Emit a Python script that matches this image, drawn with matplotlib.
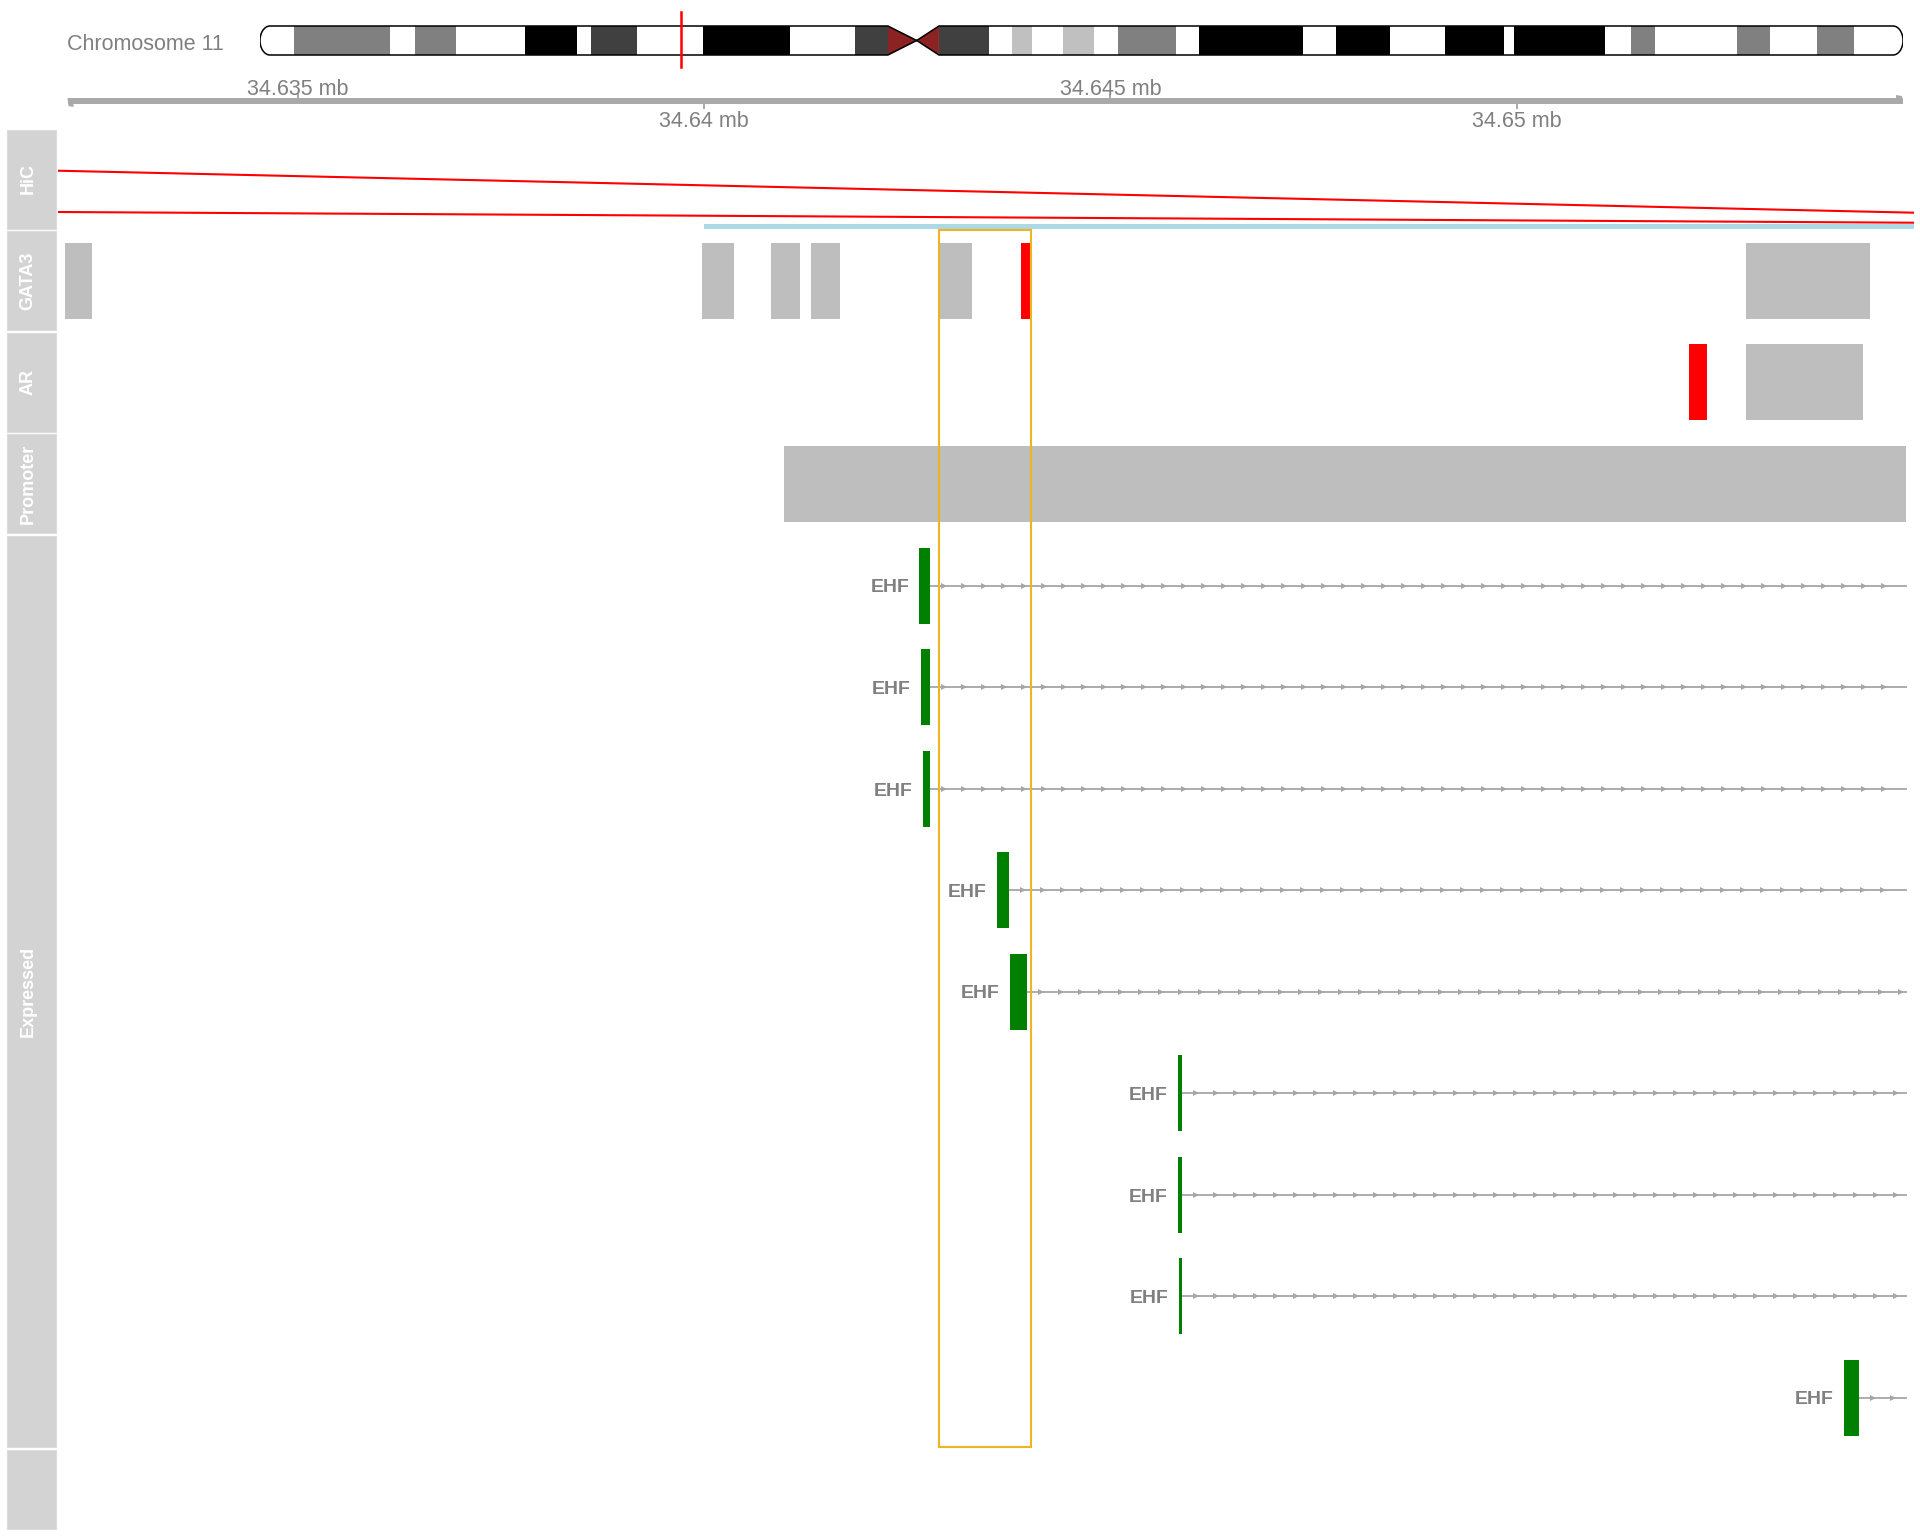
import matplotlib
matplotlib.use('Agg')
import matplotlib.pyplot as plt
from matplotlib.patches import Rectangle, Polygon
import numpy as np

plt.rcParams['font.family'] = ['Liberation Sans', 'DejaVu Sans']

# ---------------- data ----------------
chrom_label = 'Chromosome 11'
chrom_length_mb = 135.0065
band_start_mb = [0, 2.83, 10.68, 12.70, 16.10, 21.78, 26.05, 27.20, 30.98, 36.40,
                 43.55, 48.93, 51.60, 53.96, 55.79, 59.90, 61.79, 63.44, 65.98, 68.49,
                 70.50, 75.27, 77.16, 85.70, 88.42, 92.89, 97.37, 102.22, 103.04, 110.52,
                 112.66, 114.63, 121.33, 124.04, 127.94, 130.98]
band_stain = ['gneg', 'gpos50', 'gneg', 'gpos50', 'gneg', 'gpos100', 'gneg', 'gpos75', 'gneg', 'gpos100',
              'gneg', 'gpos75', 'acen', 'acen', 'gpos75', 'gneg', 'gpos25', 'gneg', 'gpos25', 'gneg',
              'gpos50', 'gneg', 'gpos100', 'gneg', 'gpos100', 'gneg', 'gpos100', 'gneg', 'gpos100', 'gneg',
              'gpos50', 'gneg', 'gpos50', 'gneg', 'gpos50', 'gneg']
stain_color = {'gneg': '#FFFFFF', 'gpos25': '#C0C0C0', 'gpos50': '#808080',
               'gpos75': '#404040', 'gpos100': '#000000', 'acen': '#8B2323'}

region_start = 34632046
region_end = 34654887

axis_ticks_bp = [34635000, 34640000, 34645000, 34650000]
axis_tick_labels = ['34.635 mb', '34.64 mb', '34.645 mb', '34.65 mb']

track_titles = ['HiC', 'GATA3', 'AR', 'Promoter', 'Expressed', '']

hic_anchor_start = 34640000
hic_anchor_end = 34656500
hic_left_height = [59.3, 18.0]
hic_right_height = [17.3, 7.3]

gata3_start = [34632138, 34639975, 34640824, 34641316, 34642891, 34643900, 34652814]
gata3_end = [34632470, 34640369, 34641181, 34641673, 34643297, 34644035, 34654351]
gata3_hit = [False, False, False, False, False, True, False]

ar_start = [34652124, 34652814]
ar_end = [34652346, 34654265]
ar_hit = [True, False]

promoter_start = [34640981]
promoter_end = [34654788]

highlight_start = 34642891
highlight_end = 34644023

gene_name = 'EHF'
tx_exon_start = [34642651, 34642670, 34642694, 34643605, 34643765, 34645826, 34645826, 34645838, 34654026]
tx_exon_end = [34642781, 34642781, 34642781, 34643752, 34643974, 34645876, 34645876, 34645876, 34654210]
tx_end = [34654788] * 9

# ---------------- layout (pixels) ----------------
W, H = 1920, 1536
DATA_X0, DATA_X1 = 57.5, 1914
IDEO_X0, IDEO_X1 = 260, 1903
IDEO_TOP, IDEO_BOT = 26, 55
GREY_TXT = '#808080'
BOX_GREY = '#BEBEBE'

fig = plt.figure(figsize=(19.2, 15.36), dpi=100)

bg = fig.add_axes([0, 0, 1, 1])
bg.set_xlim(0, W)
bg.set_ylim(H, 0)
bg.axis('off')

# title panels
title_rows = [(129.5, 228.5), (231, 330), (332.5, 431.5), (434, 533), (536, 1447), (1450, 1529)]
for (y0, y1), title in zip(title_rows, track_titles):
    bg.add_patch(Rectangle((7, y0), 49, y1 - y0, facecolor='#D3D3D3', edgecolor='#DCDCDC', lw=0.8))
    if title:
        bg.text(28, (y0 + y1) / 2, title, rotation=90, color='white', fontweight='bold',
                fontsize=13, ha='center', va='center')

bg.text(224, 44, chrom_label, ha='right', va='center', fontsize=15.5, color=GREY_TXT)

# ---------------- ideogram ----------------
ia = fig.add_axes([IDEO_X0 / W, 0, (IDEO_X1 - IDEO_X0) / W, 1])
ia.set_xlim(0, chrom_length_mb)
ia.set_ylim(H, 0)
ia.axis('off')
ia.patch.set_alpha(0)

mb_per_px = chrom_length_mb / (IDEO_X1 - IDEO_X0)
ymid = (IDEO_TOP + IDEO_BOT) / 2
ry = (IDEO_BOT - IDEO_TOP) / 2
cap = 10 * mb_per_px
acen_idx = [i for i, s in enumerate(band_stain) if s == 'acen']
a0 = band_start_mb[acen_idx[0]]
cen = band_start_mb[acen_idx[1]]
a1 = band_start_mb[acen_idx[1] + 1]
L = chrom_length_mb

pts = []
for t in np.linspace(np.pi / 2, 3 * np.pi / 2, 30):
    pts.append((cap + cap * np.cos(t), ymid - ry * np.sin(t)))
pts += [(a0, IDEO_BOT), (cen, ymid), (a1, IDEO_BOT)]
for t in np.linspace(-np.pi / 2, np.pi / 2, 30):
    pts.append((L - cap + cap * np.cos(t), ymid - ry * np.sin(t)))
pts += [(a1, IDEO_TOP), (cen, ymid), (a0, IDEO_TOP)]
outline = Polygon(pts, closed=True, fill=False, edgecolor='black', lw=1.1, zorder=4)
ia.add_patch(outline)

band_end_mb = band_start_mb[1:] + [chrom_length_mb]
for s, e, st in zip(band_start_mb, band_end_mb, band_stain):
    if st == 'acen':
        continue
    r = Rectangle((s, IDEO_TOP), e - s, IDEO_BOT - IDEO_TOP, facecolor=stain_color[st],
                  edgecolor='none', zorder=2)
    ia.add_patch(r)
    r.set_clip_path(outline)
ia.add_patch(Polygon([(a0, IDEO_TOP), (a0, IDEO_BOT), (cen, ymid)], closed=True,
                     facecolor=stain_color['acen'], edgecolor='none', zorder=2))
ia.add_patch(Polygon([(a1, IDEO_TOP), (a1, IDEO_BOT), (cen, ymid)], closed=True,
                     facecolor=stain_color['acen'], edgecolor='none', zorder=2))
ia.add_patch(Rectangle((region_start / 1e6, 12), (region_end - region_start) / 1e6, 56,
                       facecolor='red', edgecolor='red', lw=1.1, zorder=6))

# ---------------- data panel ----------------
ax = fig.add_axes([DATA_X0 / W, 0, (DATA_X1 - DATA_X0) / W, 1])
ax.set_xlim(region_start, region_end)
ax.set_ylim(H, 0)
ax.axis('off')
ax.patch.set_alpha(0)
bp_per_px = (region_end - region_start) / (DATA_X1 - DATA_X0)

# genome axis
AX_Y = 101
axis_x0 = region_start + 10 * bp_per_px
axis_x1 = region_end - 11 * bp_per_px
ax.plot([axis_x0, axis_x1], [AX_Y, AX_Y], color='#A9A9A9', lw=4.3, solid_capstyle='butt')
ax.add_patch(Polygon([(axis_x0, AX_Y - 3), (axis_x0 + 6 * bp_per_px, AX_Y - 3),
                      (axis_x0 + 6 * bp_per_px, AX_Y + 6), (axis_x0 + 1 * bp_per_px, AX_Y + 5)],
                     closed=True, facecolor='#A9A9A9', edgecolor='none'))
ax.add_patch(Polygon([(axis_x1, AX_Y + 3), (axis_x1 - 7 * bp_per_px, AX_Y + 3),
                      (axis_x1 - 7 * bp_per_px, AX_Y - 6), (axis_x1 - 1 * bp_per_px, AX_Y - 5)],
                     closed=True, facecolor='#A9A9A9', edgecolor='none'))
for i, (t, lab) in enumerate(zip(axis_ticks_bp, axis_tick_labels)):
    if i % 2 == 0:
        ax.plot([t, t], [AX_Y, AX_Y - 6.5], color='#A9A9A9', lw=1.4)
        ax.text(t, 89.5, lab, ha='center', va='center', fontsize=15.5, color=GREY_TXT)
    else:
        ax.plot([t, t], [AX_Y, AX_Y + 6.5], color='#A9A9A9', lw=1.4)
        ax.text(t, 121.5, lab, ha='center', va='center', fontsize=15.5, color=GREY_TXT)

# HiC
HIC_BASE = 230
for yl, yr in zip(hic_left_height, hic_right_height):
    ax.plot([region_start, region_end], [HIC_BASE - yl, HIC_BASE - yr], color='red', lw=1.5)
ax.add_patch(Rectangle((hic_anchor_start, 224), hic_anchor_end - hic_anchor_start, 5.3,
                       facecolor='#ADD8E6', edgecolor='none'))


def draw_boxes(starts, ends, hits, y0, y1):
    for s, e, h in zip(starts, ends, hits):
        ax.add_patch(Rectangle((s, y0), e - s, y1 - y0,
                               facecolor='red' if h else BOX_GREY, edgecolor='none', zorder=3))


draw_boxes(gata3_start, gata3_end, gata3_hit, 243, 319)
draw_boxes(ar_start, ar_end, ar_hit, 344, 420)
draw_boxes(promoter_start, promoter_end, [False] * len(promoter_start), 446, 521.7)

# gene models
ROW0, ROW_STEP, HALF = 585.5, 101.5, 38
step_bp = 20 * bp_per_px
for i, (es, ee, te) in enumerate(zip(tx_exon_start, tx_exon_end, tx_end)):
    yc = ROW0 + i * ROW_STEP
    ax.plot([ee, te], [yc, yc], color='#A6A6A6', lw=1.3, zorder=2)
    marks = np.arange(ee + 14 * bp_per_px, te - 4 * bp_per_px, step_bp)
    ax.plot(marks, np.full(len(marks), yc), linestyle='none', marker='>', markersize=4.6,
            color='#A6A6A6', markeredgewidth=0, zorder=2)
    ax.add_patch(Rectangle((es, yc - HALF), ee - es, 2 * HALF, facecolor='#008000',
                           edgecolor='none', zorder=3))
    ax.annotate(gene_name, xy=(es, yc), xytext=(-7.2, -1.8), textcoords='offset points',
                ha='right', va='center', fontsize=14, fontweight='bold', color=GREY_TXT)

# highlight
ax.add_patch(Rectangle((highlight_start, 230), highlight_end - highlight_start, 1447 - 230,
                       fill=False, edgecolor='#EEB422', lw=1.5, zorder=10))

fig.savefig('out.png', dpi=100, facecolor='white')
